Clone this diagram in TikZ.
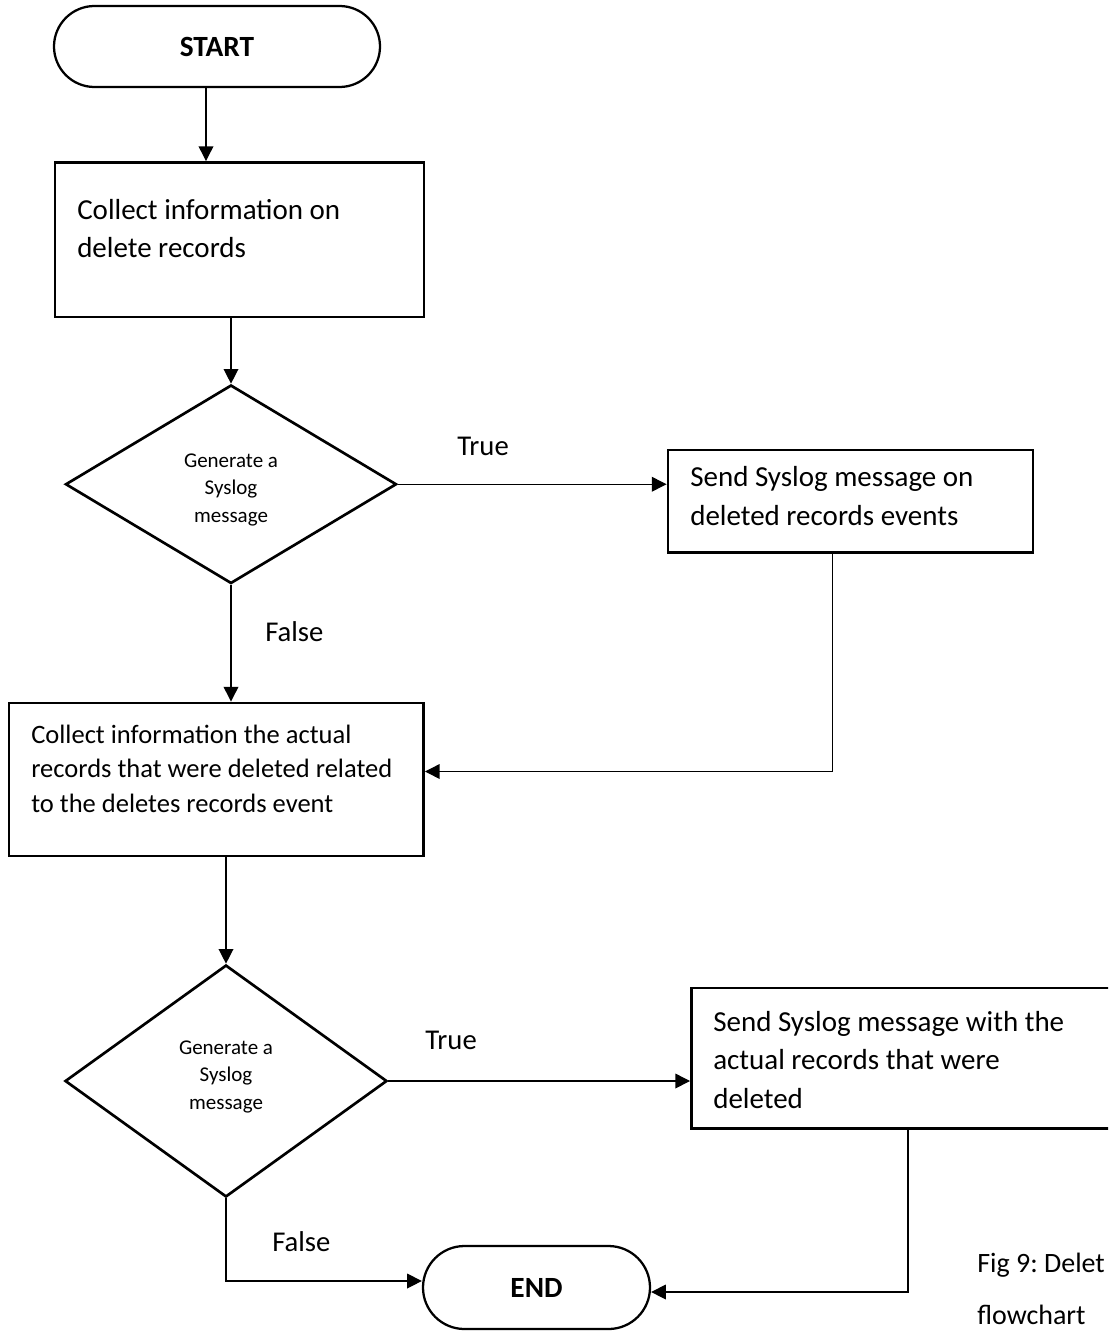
\documentclass[tikz,border=0pt]{standalone}
\usepackage{fontspec}
\setmainfont{Carlito}
\usetikzlibrary{shapes.geometric,shapes.misc,arrows.meta}
\frenchspacing
\newdimen\pxu \pxu=0.75pt
% invisible strut fixing the height of a first text line
\newcommand\lead{\rule{0pt}{24pt}}
\begin{document}
\begin{tikzpicture}[x=0.75pt,y=-0.75pt,
  box/.style={draw,line width=2.2pt,rectangle,inner sep=0pt},
  decision/.style={draw,line width=2pt,diamond,inner sep=0pt},
  terminal/.style={draw,line width=1.7pt,rounded rectangle,inner sep=0pt,
    font=\fontsize{22pt}{26pt}\selectfont\bfseries},
  bigtext/.style={inner sep=0pt,anchor=north west,align=left,
    font=\fontsize{21.75pt}{28.9pt}\selectfont},
  smalltext/.style={inner sep=0pt,anchor=north west,align=left,
    font=\fontsize{19.9pt}{25.9pt}\selectfont},
  dectext/.style={inner sep=0pt,anchor=north,align=center,
    font=\fontsize{15.75pt}{20.6pt}\selectfont},
  flowlabel/.style={inner sep=0pt,anchor=base west,
    font=\fontsize{21.5pt}{26pt}\selectfont},
  arr/.style={line width=1pt,-{Triangle[length=11pt,width=11pt]}}
]
\useasboundingbox (0,0) rectangle (1108,1331);
\clip (0,0) rectangle (1108,1331);
\fill[white] (0,0) rectangle (1108,1331);

% terminals
\node[terminal,minimum width=326\pxu,minimum height=81\pxu] (start) at (217,46.5) {START};
\node[terminal,minimum width=227\pxu,minimum height=83\pxu] (end) at (536.5,1287.5) {END};

% process boxes
\node[box,minimum width=369\pxu,minimum height=154.5\pxu] (b1) at (239.5,239.75) {};
\node[bigtext] (b1t) at (77,187) {\lead Collect information on\\delete records};

\node[box,minimum width=365\pxu,minimum height=102.5\pxu] (b2) at (850.5,501.25) {};
\node[bigtext] (b2t) at (690,454.7) {\lead Send Syslog message on\\deleted records events};

\node[box,minimum width=414.5\pxu,minimum height=153\pxu] (b3) at (216.25,779.5) {};
\node[smalltext] (b3t) at (31,711) {\lead Collect information the actual\\records that were deleted related\\to the deletes records event};

\node[box,minimum width=433.5\pxu,minimum height=140.5\pxu] (b4) at (908.25,1058.25) {};
\node[bigtext] (b4t) at (713,999) {\lead Send Syslog message with the\\actual records that were\\deleted};

% decisions
\node[decision,minimum width=331\pxu,minimum height=198.5\pxu] (d1) at (231,484.25) {};
\node[dectext] (d1t) at (231,435) {\lead Generate a\\Syslog\\message};

\node[decision,minimum width=322\pxu,minimum height=232\pxu] (d2) at (226,1081) {};
\node[dectext] (d2t) at (226,1022) {\lead Generate a\\Syslog\\message};

% branch labels
\node[flowlabel] (t1) at (457,455) {True};
\node[flowlabel] (f1) at (265,641) {False};
\node[flowlabel] (t2) at (425,1049) {True};
\node[flowlabel] (f2) at (272,1251) {False};

% caption
\node[flowlabel,font=\fontsize{21pt}{26pt}\selectfont] (cap1) at (977,1272) {Fig 9: Delet};
\node[flowlabel,font=\fontsize{21pt}{26pt}\selectfont] (cap2) at (977,1324) {flowchart};

% connectors
\coordinate (s1) at (206,0);
\draw[arr] (start.south -| s1) -- (b1.north -| s1);
\draw[arr] (b1.south -| d1.north) -- (d1.north);
\draw[arr] (d1.east) -- (d1.east -| b2.west);
\draw[arr] (d1.south) -- (d1.south |- b3.north);
\coordinate (j1) at (832.5,771.5);
\draw[arr] (b2.south -| j1) -- (j1) -- (j1 -| b3.east);
\draw[arr] (d2.north |- b3.south) -- (d2.north);
\draw[arr] (d2.east) -- (d2.east -| b4.west);
\coordinate (j2) at (229,1281);
\draw[arr] (d2.south) -- (d2.south |- j2) -- (j2 -| end.west);
\coordinate (j3) at (908,1292);
\draw[arr] (b4.south -| j3) -- (j3) -- (j3 -| end.east);
\end{tikzpicture}
\end{document}
